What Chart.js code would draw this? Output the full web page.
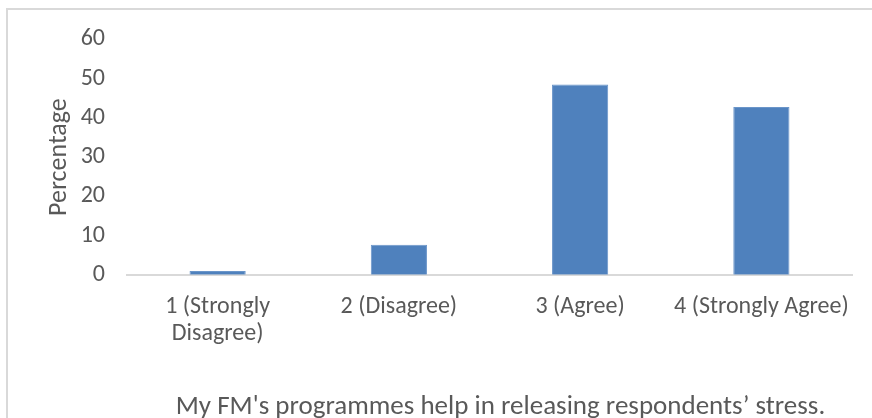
<!DOCTYPE html>
<html>
<head>
<meta charset="utf-8">
<script src="https://cdn.jsdelivr.net/npm/chart.js@4/dist/chart.umd.min.js"></script>
<style>
  html, body { margin: 0; padding: 0; background: #fff; overflow: hidden; }
  #frame {
    position: absolute;
    left: 6px;
    top: 8px;
    width: 984px;
    height: 430px;
    border: 2px solid #d9d9d9;
    box-sizing: border-box;
  }
  #grafica { position: absolute; left: 0; top: -7px; }
</style>
</head>
<body>
<div id="frame">
  <canvas id="grafica" width="984" height="420"></canvas>
</div>
<script>
const categorias = [
  ["1 (Strongly", "Disagree)"],
  "2 (Disagree)",
  "3 (Agree)",
  "4 (Strongly Agree)"
];
const porcentajes = [1.0, 7.7, 48.5, 42.8];
const ticksY = [0, 10, 20, 30, 40, 50, 60];
const tituloEje = "Percentage";
const tituloGrafica = "My FM's programmes help in releasing respondents\u2019 stress.";

const fuente = "Carlito, Calibri, 'Open Sans', sans-serif";
const gris = "#595959";

// the title sits under the whole frame, a bit right of the plot centre
const moverTitulo = {
  id: "moverTitulo",
  afterLayout(chart) {
    const t = chart.titleBlock;
    if (!t) return;
    t.left = chart.chartArea.left;
    t.right = chart.chartArea.right + 22;
  }
};

new Chart(document.getElementById("grafica"), {
  type: "bar",
  data: {
    labels: categorias,
    datasets: [{
      data: porcentajes,
      backgroundColor: "#4f81bd",
      borderColor: "#6a95c9",
      borderWidth: 1,
      categoryPercentage: 1,
      barPercentage: 0.31
    }]
  },
  plugins: [moverTitulo],
  options: {
    responsive: false,
    animation: false,
    layout: { padding: { left: 32, right: 140, top: 7, bottom: 0 } },
    plugins: {
      legend: { display: false },
      tooltip: { enabled: false },
      title: {
        display: true,
        position: "bottom",
        text: tituloGrafica,
        color: gris,
        font: { family: fuente, size: 27, weight: "normal" },
        padding: { top: 24, bottom: 0 }
      }
    },
    scales: {
      x: {
        grid: { display: false, drawTicks: false },
        border: { color: "#d9d9d9", width: 2 },
        ticks: {
          color: gris,
          font: { family: fuente, size: 24, lineHeight: 1.12 },
          padding: 19,
          maxRotation: 0,
          autoSkip: false
        }
      },
      y: {
        min: ticksY[0],
        max: ticksY[ticksY.length - 1],
        afterBuildTicks: axis => { axis.ticks = ticksY.map(v => ({ value: v })); },
        afterFit: axis => { axis.width = 87; },
        grid: { display: false, drawTicks: false },
        border: { display: false },
        ticks: {
          color: gris,
          font: { family: fuente, size: 24 },
          padding: 22
        },
        title: {
          display: true,
          text: tituloEje,
          color: gris,
          font: { family: fuente, size: 26 },
          padding: { top: 4, bottom: 4 }
        }
      }
    }
  }
});
</script>
</body>
</html>
